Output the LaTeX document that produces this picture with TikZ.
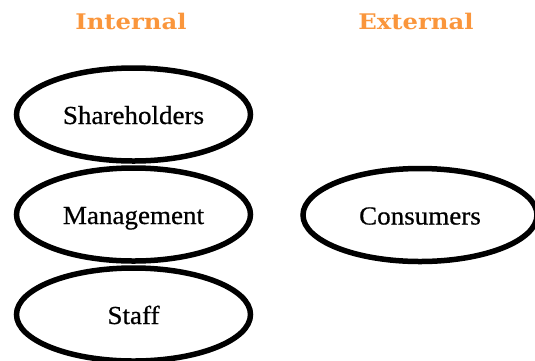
\documentclass[tikz,border=0pt]{standalone}
\usepackage{fontspec}
\setmainfont{Liberation Serif}
\newfontfamily\titlefont{DejaVu Serif}
\newfontfamily\labelfont[FakeBold=0.6]{Liberation Serif}
\usetikzlibrary{shapes.geometric}
\definecolor{titleorange}{RGB}{250,150,60}
\tikzset{
  stake/.style={ellipse, draw=black, line width=5.5pt, minimum width=234pt, minimum height=93pt, inner sep=0pt},
  stakelabel/.style={inner sep=0pt, text height=23pt, text depth=4pt, xscale=1.04, font=\labelfont\fontsize{26}{30}\selectfont},
  heading/.style={text=titleorange, font=\titlefont\bfseries\fontsize{21.5}{25}\selectfont, xscale=1.13, inner sep=0pt}
}
\begin{document}
\begin{tikzpicture}[x=1pt,y=-1pt]
\useasboundingbox (0,0) rectangle (535,360);
\clip (0,0) rectangle (535,360);
\node[heading] (internal) at (131,21) {Internal};
\node[heading] (external) at (416,21) {External};
\node[stake] (share) at (133.5,114.5) {};
\node[stake] (mgmt) at (133.5,214.5) {};
\node[stake] (staff) at (133.5,314.5) {};
\node[stake] (cons) at (420,215) {};
\node[stakelabel] (sharet) at (share.center) {Shareholders};
\node[stakelabel] (mgmtt) at (mgmt.center) {Management};
\node[stakelabel] (stafft) at (staff.center) {Staff};
\node[stakelabel] (const) at (cons.center) {Consumers};
\end{tikzpicture}
\end{document}
